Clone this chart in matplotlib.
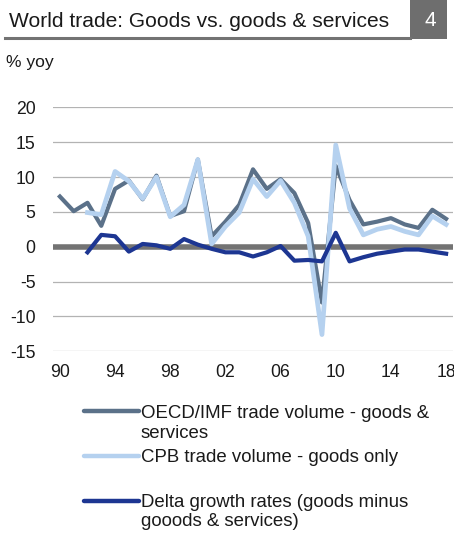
import matplotlib
matplotlib.use("Agg")
import matplotlib.pyplot as plt
from matplotlib.lines import Line2D
from matplotlib.patches import Rectangle

plt.rcParams['font.family'] = ['Liberation Sans', 'DejaVu Sans']

years = list(range(1990, 2019))

oecd_goods_services = [7.2, 5.1, 6.3, 3.0, 8.3, 9.5, 6.8, 10.2, 4.4, 5.1,
                       12.5, 1.5, 3.6, 6.0, 11.1, 8.3, 9.7, 7.7, 3.4, -8.0,
                       11.6, 6.7, 3.2, 3.6, 4.1, 3.2, 2.7, 5.3, 4.0]

cpb_years = list(range(1992, 2019))
cpb_goods = [4.9, 4.6, 10.8, 9.4, 6.9, 10.0, 4.3, 6.0,
             12.5, 0.4, 2.9, 4.9, 9.7, 7.2, 9.5, 6.3, 1.5, -12.6,
             14.6, 5.5, 1.7, 2.5, 2.9, 2.2, 1.7, 4.4, 3.2]

delta_growth = [-0.8, 1.7, 1.5, -0.7, 0.4, 0.2, -0.3, 1.1,
                0.3, -0.3, -0.8, -0.8, -1.4, -0.8, 0.1, -2.0, -1.9, -2.1,
                2.0, -2.1, -1.5, -1.0, -0.7, -0.4, -0.4, -0.7, -1.0]

series_labels = [["OECD/IMF trade volume - goods &", "services"],
                 ["CPB trade volume - goods only"],
                 ["Delta growth rates (goods minus", "gooods & services)"]]
series_colors = ["#5b7189", "#b5d1ef", "#1d3692"]

x_ticks = list(range(1990, 2019, 4))
x_tick_labels = ["90", "94", "98", "02", "06", "10", "14", "18"]
y_ticks = [-15, -10, -5, 0, 5, 10, 15, 20]

title_text = "World trade: Goods vs. goods & services"
chart_number = "4"
unit_text = "% yoy"

W, H = 454, 534
fig = plt.figure(figsize=(W / 100, H / 100), dpi=100)
TXT = "#1a1a1a"


def fx(px):
    return px / W


def fy(py):
    return 1 - py / H


# Header: title, underline and numbered box
fig.text(fx(9), fy(26.7), title_text, fontsize=15.1, color=TXT,
         ha="left", va="baseline")
fig.add_artist(Line2D([fx(5), fx(410)], [fy(37.5), fy(37.5)],
                      color="#737373", lw=2.2, transform=fig.transFigure))
fig.add_artist(Rectangle((fx(410), fy(39)), fx(447) - fx(410), fy(0) - fy(39),
                         facecolor="#6e6e6e", edgecolor="none",
                         transform=fig.transFigure))
fig.text(fx(430), fy(25.5), chart_number, fontsize=15, color="white",
         ha="center", va="baseline")
fig.text(fx(6.5), fy(66.5), unit_text, fontsize=12.6, color=TXT,
         ha="left", va="baseline")

# Plot area
ax = fig.add_axes([fx(53), fy(351.3), fx(453) - fx(53), fy(107.3) - fy(351.3)])
ax.set_xlim(1989.5, 2018.5)
ax.set_ylim(-15, 20)
for s in ax.spines.values():
    s.set_visible(False)
ax.set_yticks(y_ticks)
ax.set_yticklabels([str(v) for v in y_ticks])
ax.set_xticks(x_ticks)
ax.set_xticklabels(x_tick_labels)
ax.tick_params(axis="both", length=0, labelsize=12.7, labelcolor=TXT)
ax.tick_params(axis="y", pad=12.5)
ax.tick_params(axis="x", pad=9)
for v in y_ticks:
    if v != 0:
        ax.axhline(v, color="#b3b3b3", lw=0.9, zorder=0)
ax.axhline(0, color="#737373", lw=4.0, zorder=1)

ax.plot(years, oecd_goods_services, color=series_colors[0], lw=3.0,
        solid_joinstyle="round", zorder=2, clip_on=False)
ax.plot(cpb_years, cpb_goods, color=series_colors[1], lw=3.4,
        solid_joinstyle="round", zorder=3, clip_on=False)
ax.plot(cpb_years, delta_growth, color=series_colors[2], lw=3.0,
        solid_joinstyle="round", zorder=4, clip_on=False)

# Legend below the plot: one sample line per series, label lines on baselines
handle_rows = [410.5, 456, 500.5]
first_baselines = [418.3, 461.7, 506.7]
line_step = 19.5
for lines, color, hy, base in zip(series_labels, series_colors,
                                  handle_rows, first_baselines):
    fig.add_artist(Line2D([fx(84), fx(139)], [fy(hy), fy(hy)], color=color,
                          lw=3.2, solid_capstyle="round",
                          transform=fig.transFigure))
    for i, line in enumerate(lines):
        fig.text(fx(141), fy(base + i * line_step), line, fontsize=13.4,
                 color=TXT, ha="left", va="baseline")

fig.savefig("out.png", dpi=100)
